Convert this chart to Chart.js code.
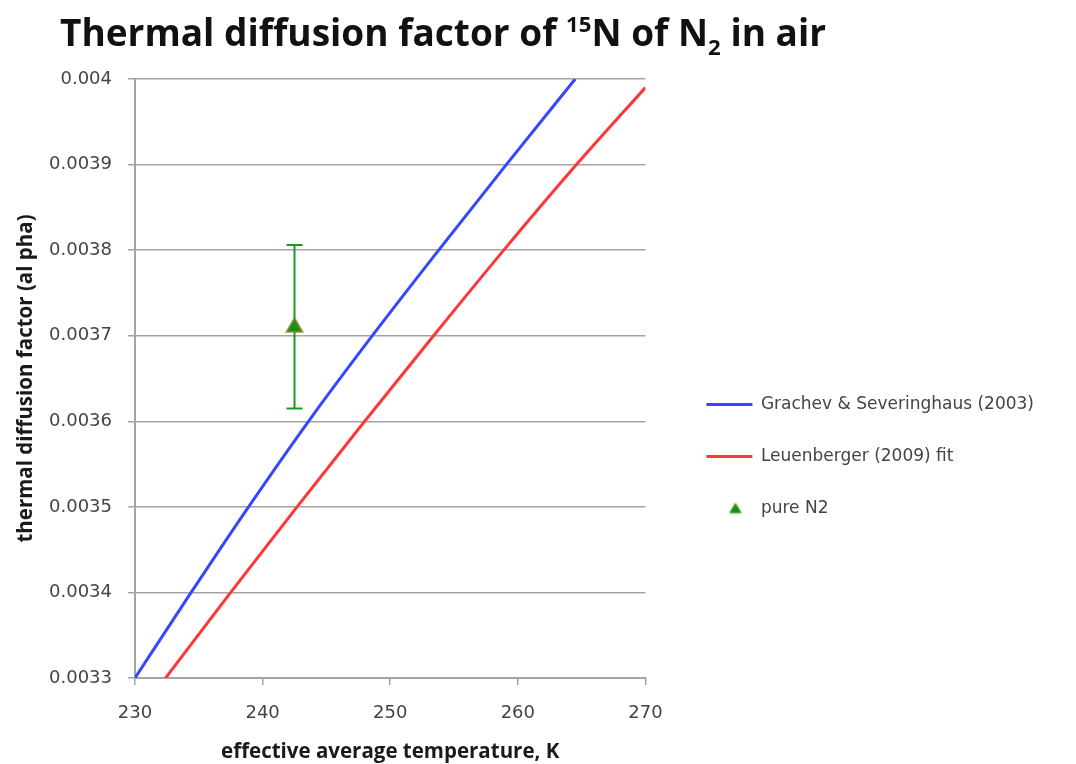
<!DOCTYPE html>
<html>
<head>
<meta charset="utf-8">
<script src="https://cdn.jsdelivr.net/npm/chart.js@4.4.1/dist/chart.umd.min.js"></script>
<style>
html,body{margin:0;padding:0;background:#ffffff;}
#wrap{width:1076px;height:764px;position:relative;}
</style>
</head>
<body>
<div id="wrap"><canvas id="c" width="1076" height="764"></canvas></div>
<script>
// ---- data ----
const titleSegments = [
  {text: 'Thermal diffusion factor of ', kind: 'normal'},
  {text: '15', kind: 'sup'},
  {text: 'N of N', kind: 'normal'},
  {text: '2', kind: 'sub'},
  {text: ' in air', kind: 'normal'}
];
const xAxisTitle = 'effective average temperature, K';
const yAxisTitle = 'thermal diffusion factor (al pha)';

const xTickValues = [230, 240, 250, 260, 270];
const xTickLabels = ['230', '240', '250', '260', '270'];
const yTickValues = [0.0033, 0.0034, 0.0035, 0.0036, 0.0037, 0.0038, 0.0039, 0.004];
const yTickLabels = ['0.0033', '0.0034', '0.0035', '0.0036', '0.0037', '0.0038', '0.0039', '0.004'];

const seriesNames = ['Grachev & Severinghaus (2003)', 'Leuenberger (2009) fit', 'pure N2'];

// Grachev & Severinghaus (2003)
const gsTemps = [230.0, 234.4, 238.9, 243.6, 248.6, 253.8, 259.1, 264.5];
const gsAlpha = [0.0033, 0.0034, 0.0035, 0.0036, 0.0037, 0.0038, 0.0039, 0.0040];

// Leuenberger (2009) fit
const lbTemps = [232.4, 237.5, 242.7, 248.0, 253.4, 258.9, 264.6, 270.0];
const lbAlpha = [0.0033, 0.0034, 0.0035, 0.0036, 0.0037, 0.0038, 0.0039, 0.00399];

// pure N2 measurement with error bar
const n2Temps = [242.5];
const n2Alpha = [0.00371];
const n2ErrLow = [0.003615];
const n2ErrHigh = [0.003806];

// ---- legend triangle symbol ----
const legendTriangle = document.createElement('canvas');
legendTriangle.width = 30; legendTriangle.height = 16;
(function () {
  const g = legendTriangle.getContext('2d');
  g.shadowColor = 'rgba(120,130,30,0.6)';
  g.shadowBlur = 3;
  g.fillStyle = '#1c8c1c';
  g.beginPath();
  g.moveTo(21, 2.5); g.lineTo(27, 12.5); g.lineTo(15, 12.5); g.closePath();
  g.fill();
})();

// ---- plugins ----
const titlePlugin = {
  id: 'richTitle',
  afterDraw(chart) {
    const ctx = chart.ctx;
    const size = 37;
    const family = "'Open Sans', 'DejaVu Sans', sans-serif";
    let x = 60;
    const baseY = 46;
    ctx.save();
    ctx.fillStyle = '#111111';
    ctx.textBaseline = 'alphabetic';
    ctx.textAlign = 'left';
    titleSegments.forEach(seg => {
      let fs = size, y = baseY;
      if (seg.kind === 'sup') { fs = size * 0.6; y = baseY - size * 0.38; }
      if (seg.kind === 'sub') { fs = size * 0.6; y = baseY + size * 0.24; }
      ctx.font = 'bold ' + fs + 'px ' + family;
      ctx.fillText(seg.text, x, y);
      x += ctx.measureText(seg.text).width;
    });
    ctx.restore();
  }
};

const errorBarPlugin = {
  id: 'errorBars',
  afterDatasetsDraw(chart) {
    const ctx = chart.ctx;
    const xs = chart.scales.x, ys = chart.scales.y;
    ctx.save();
    ctx.strokeStyle = '#1c9a1c';
    ctx.lineWidth = 2;
    n2Temps.forEach((t, i) => {
      const px = xs.getPixelForValue(t);
      const pTop = ys.getPixelForValue(n2ErrHigh[i]);
      const pBot = ys.getPixelForValue(n2ErrLow[i]);
      const cap = 8;
      ctx.beginPath();
      ctx.moveTo(px, pTop); ctx.lineTo(px, pBot);
      ctx.moveTo(px - cap, pTop); ctx.lineTo(px + cap, pTop);
      ctx.moveTo(px - cap, pBot); ctx.lineTo(px + cap, pBot);
      ctx.stroke();
    });
    ctx.restore();
    const meta = chart.getDatasetMeta(2);
    meta.data.forEach(el => el.draw(ctx));
  }
};

const legendPlacePlugin = {
  id: 'legendPlace',
  afterLayout(chart) {
    const lg = chart.legend;
    if (!lg) return;
    const dx = 26, dy = 35;
    lg.left += dx; lg.right += dx + 30;
    lg.top += dy; lg.bottom += dy;
  }
};

const gridColor = '#a4a4a4';
const tickFont = {family: "'DejaVu Sans', sans-serif", size: 18};
const axisTitleFont = {family: "'Open Sans', sans-serif", size: 20.5, weight: 'bold'};

new Chart(document.getElementById('c'), {
  type: 'scatter',
  data: {
    datasets: [
      {
        label: seriesNames[0],
        data: gsTemps.map((t, i) => ({x: t, y: gsAlpha[i]})),
        showLine: true,
        borderColor: '#3447ff',
        backgroundColor: '#3447ff',
        borderWidth: 3,
        pointRadius: 0,
        pointHoverRadius: 0,
        pointStyle: 'line',
        cubicInterpolationMode: 'monotone'
      },
      {
        label: seriesNames[1],
        data: lbTemps.map((t, i) => ({x: t, y: lbAlpha[i]})),
        showLine: true,
        borderColor: '#ff3636',
        backgroundColor: '#ff3636',
        borderWidth: 3,
        pointRadius: 0,
        pointHoverRadius: 0,
        pointStyle: 'line',
        cubicInterpolationMode: 'monotone'
      },
      {
        label: seriesNames[2],
        data: n2Temps.map((t, i) => ({x: t, y: n2Alpha[i]})),
        showLine: false,
        pointStyle: 'triangle',
        pointRadius: 9,
        backgroundColor: '#1c8c1c',
        borderColor: 'rgba(140,150,40,0.55)',
        borderWidth: 2
      }
    ]
  },
  options: {
    responsive: false,
    animation: false,
    layout: {padding: {top: 79, right: 58, bottom: 0, left: 0}},
    plugins: {
      title: {display: false},
      tooltip: {enabled: false},
      legend: {
        position: 'right',
        align: 'center',
        maxWidth: 500,
        labels: {
          usePointStyle: true,
          pointStyleWidth: 46,
          boxHeight: 9,
          padding: 35,
          color: '#444444',
          font: {family: "'DejaVu Sans', sans-serif", size: 17},
          generateLabels(chart) {
            const items = Chart.defaults.plugins.legend.labels.generateLabels(chart);
            items.forEach(it => { if (it.datasetIndex === 2) it.pointStyle = legendTriangle; });
            return items;
          }
        }
      }
    },
    scales: {
      x: {
        type: 'linear',
        min: 230,
        max: 270,
        afterFit(scale) { scale.height = 86; },
        afterBuildTicks(scale) { scale.ticks = xTickValues.map(v => ({value: v})); },
        ticks: {
          callback: (v, i) => xTickLabels[i],
          color: '#444444',
          font: tickFont,
          padding: 18,
          maxRotation: 0
        },
        grid: {drawOnChartArea: false, drawTicks: true, tickLength: 7, color: gridColor, lineWidth: 1.5},
        border: {display: true, color: gridColor, width: 2},
        title: {display: true, text: xAxisTitle, color: '#1a1a1a', font: axisTitleFont, padding: {top: 2, bottom: 0}}
      },
      y: {
        type: 'linear',
        min: 0.0033,
        max: 0.004,
        afterFit(scale) { scale.width = 135; },
        afterBuildTicks(scale) { scale.ticks = yTickValues.map(v => ({value: v})); },
        ticks: {
          callback: (v, i) => yTickLabels[i],
          color: '#444444',
          font: tickFont,
          padding: 16
        },
        grid: {drawOnChartArea: true, drawTicks: true, tickLength: 7, color: gridColor, lineWidth: 1.5},
        border: {display: true, color: gridColor, width: 2},
        title: {display: true, text: yAxisTitle, color: '#1a1a1a', font: axisTitleFont, padding: {top: 14, bottom: 0}}
      }
    }
  },
  plugins: [titlePlugin, errorBarPlugin, legendPlacePlugin]
});
</script>
</body>
</html>
